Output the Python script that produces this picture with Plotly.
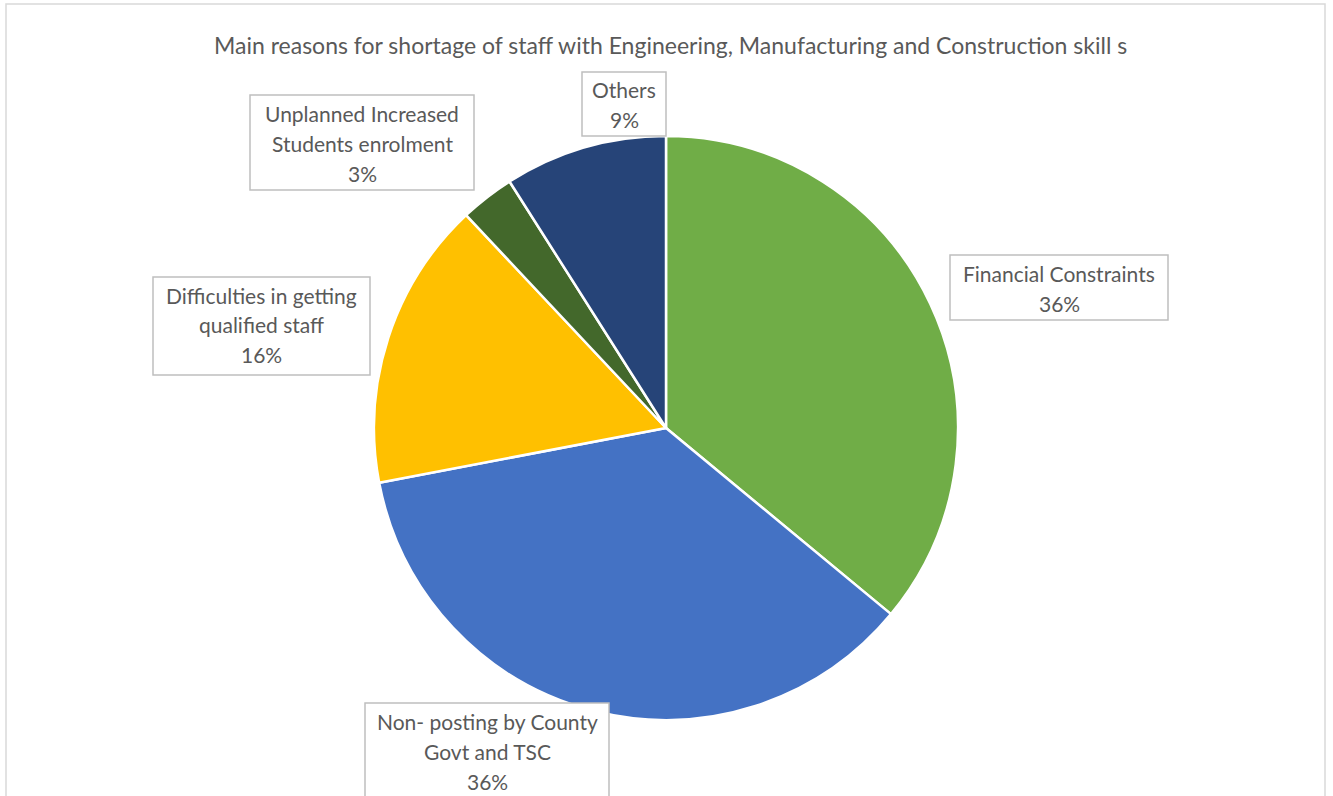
import plotly.graph_objects as go

# Survey results: reasons for staff shortage (percent of responses)
categories = [
    "Financial Constraints",
    "Non- posting by County<br>Govt and TSC",
    "Difficulties in getting<br>qualified staff",
    "Unplanned Increased<br>Students enrolment",
    "Others",
]
shares = [36, 36, 16, 3, 9]
slice_colors = ["#70AD47", "#4472C4", "#FFC000", "#43682B", "#264478"]

title_text = ("Main reasons for shortage of staff with Engineering, "
              "Manufacturing and Construction skill s")

W, H = 1333, 796
FONT = "Lato, Open Sans, sans-serif"
TXT = "#595959"


def px(x):
    return x / W


def py(y):
    return (H - y) / H


# Pie placement (pixels): centre (666, 428), radius 292
cx, cy, r = 666, 428, 292

fig = go.Figure(go.Pie(
    labels=categories,
    values=shares,
    sort=False,
    direction="clockwise",
    rotation=0,
    textinfo="none",
    hoverinfo="label+percent",
    marker=dict(colors=slice_colors, line=dict(color="white", width=2.5)),
    domain=dict(x=[px(cx - r), px(cx + r)], y=[py(cy + r), py(cy - r)]),
    showlegend=False,
))

# Data-label boxes: (left, top, right, bottom) in pixels for each category
boxes = [
    (950, 255, 1168, 320),
    (365, 703, 609, 830),
    (153, 277, 370, 375),
    (250, 95, 474, 190),
    (582, 72, 666, 136),
]

shapes = []
annotations = []
for name, val, (x0, y0, x1, y1) in zip(categories, shares, boxes):
    shapes.append(dict(
        type="rect", xref="paper", yref="paper",
        x0=px(x0), x1=px(x1), y0=py(y1), y1=py(y0),
        line=dict(color="#BFBFBF", width=1.5), fillcolor="white", layer="above",
    ))
    lines = name.split("<br>") + [f"{val}%"]
    for i, line in enumerate(lines):
        annotations.append(dict(
            text=line, xref="paper", yref="paper",
            x=px((x0 + x1) / 2), y=py(y0 + 18 + 30 * i),
            xanchor="center", yanchor="middle", showarrow=False,
            font=dict(family=FONT, size=21, color=TXT),
        ))

# Title
annotations.append(dict(
    text=title_text, xref="paper", yref="paper",
    x=px(670), y=py(45), xanchor="center", yanchor="middle", showarrow=False,
    font=dict(family=FONT, size=23, color=TXT),
))

# Chart-area frame
shapes.append(dict(
    type="rect", xref="paper", yref="paper",
    x0=px(6), x1=px(1325), y0=py(820), y1=py(4),
    line=dict(color="#D9D9D9", width=1.5), layer="below",
))

fig.update_layout(
    width=W, height=H,
    margin=dict(l=0, r=0, t=0, b=0),
    paper_bgcolor="white", plot_bgcolor="white",
    shapes=shapes, annotations=annotations,
)

fig.write_html("out.html")
